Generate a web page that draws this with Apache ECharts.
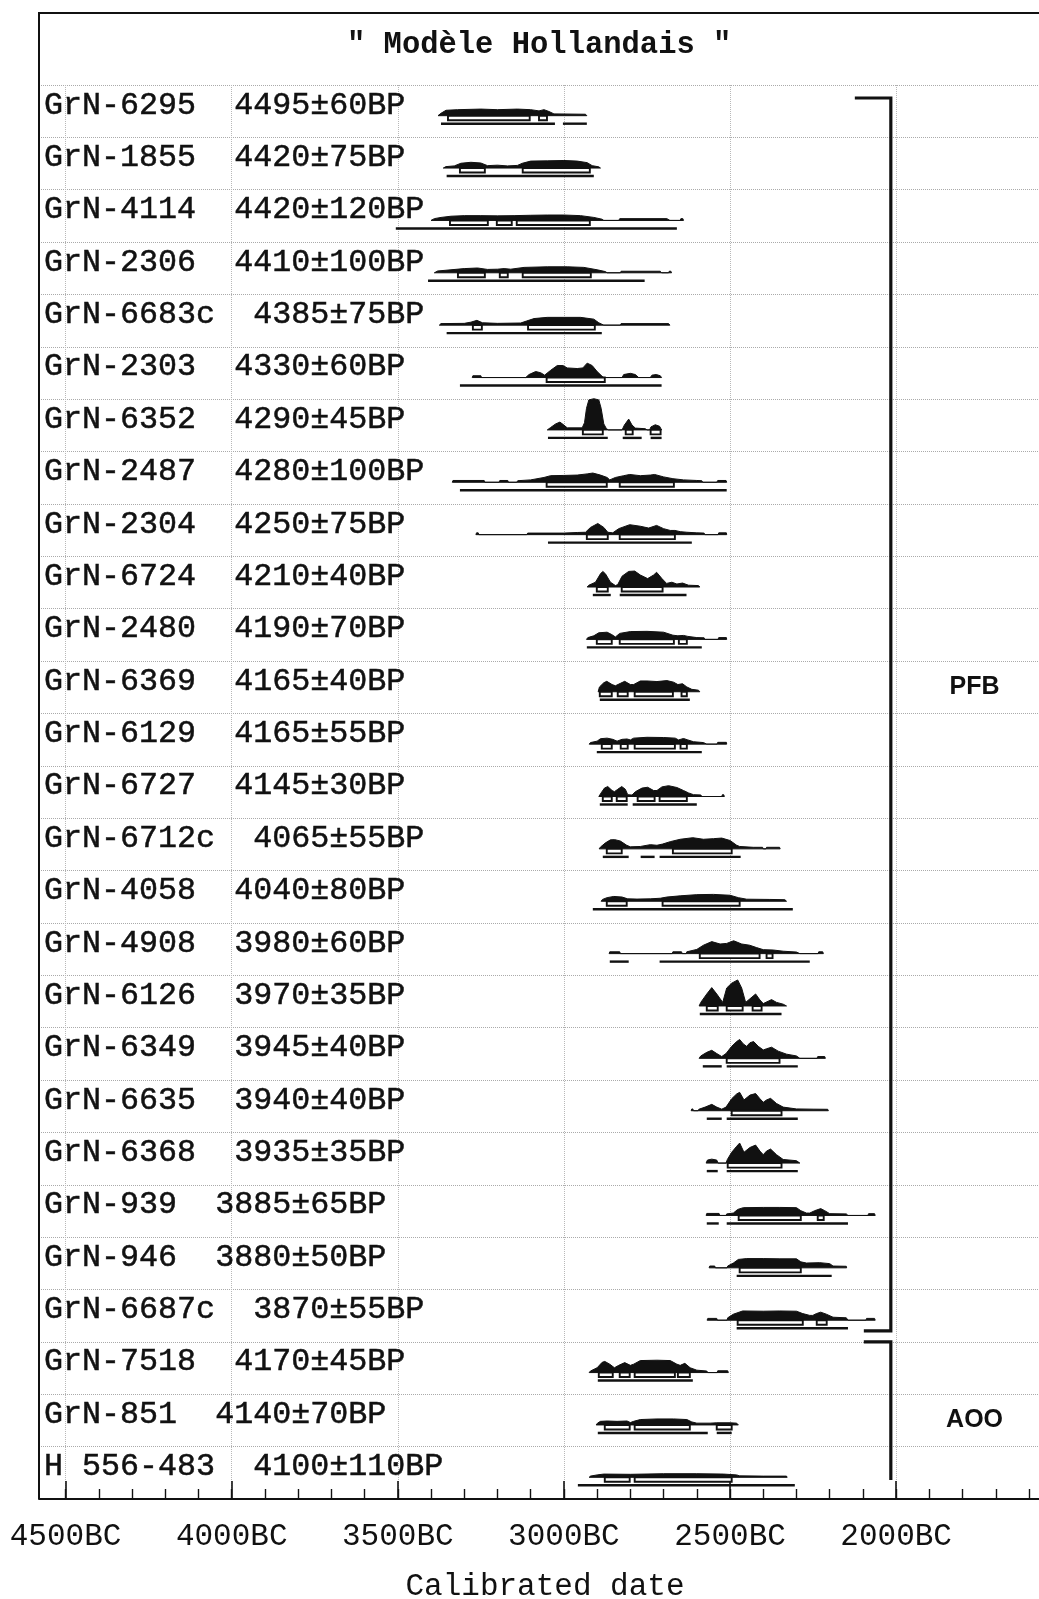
<!DOCTYPE html>
<html><head><meta charset="utf-8">
<script src="https://cdn.jsdelivr.net/npm/echarts@6/dist/echarts.min.js"></script>
<style>html,body{margin:0;padding:0;background:#fff}#c{width:1039px;height:1599px}</style>
</head><body><div id="c"></div>
<script>
// ---------- DATA ----------
const sampleCodes = ['GrN-6295','GrN-1855','GrN-4114','GrN-2306','GrN-6683c','GrN-2303','GrN-6352','GrN-2487','GrN-2304',
  'GrN-6724','GrN-2480','GrN-6369','GrN-6129','GrN-6727','GrN-6712c','GrN-4058','GrN-4908','GrN-6126','GrN-6349',
  'GrN-6635','GrN-6368','GrN-939','GrN-946','GrN-6687c','GrN-7518','GrN-851','H 556-483'];
const bpAges = ['4495±60BP','4420±75BP','4420±120BP','4410±100BP','4385±75BP','4330±60BP','4290±45BP','4280±100BP','4250±75BP',
  '4210±40BP','4190±70BP','4165±40BP','4165±55BP','4145±30BP','4065±55BP','4040±80BP','3980±60BP','3970±35BP','3945±40BP',
  '3940±40BP','3935±35BP','3885±65BP','3880±50BP','3870±55BP','4170±45BP','4140±70BP','4100±110BP'];

// x-axis tick values (years BC)
const majorTicks = [4500,4000,3500,3000,2500,2000];
const minorTicks = [4500,4400,4300,4200,4100,4000,3900,3800,3700,3600,3500,3400,3300,3200,3100,3000,2900,2800,2700,2600,2500,2400,2300,2200,2100,2000,1900,1800,1700,1600];

// probability curves: [year BC, relative density]
const densityCurves = [
 [[3379,0],[3370,2],[3355,4.5],[3320,5],[3250,5.5],[3200,5],[3140,5.5],[3100,5],[3075,4],[3060,5],[3045,3.5],[3030,1.5],[2935,1.2],[2931,0]],
 [[3363,0],[3355,1.2],[3330,1.8],[3310,4],[3280,4.8],[3250,4.2],[3230,2],[3200,2.4],[3170,1.8],[3140,2.2],[3125,4],[3100,5.8],[3050,6],[3000,6.3],[2960,5.8],[2930,4.5],[2915,2],[2895,1],[2890,0]],
 [[3400,0],[3390,1.5],[3370,2.5],[3340,3.5],[3300,4],[3250,4],[3200,3.8],[3150,4],[3100,4.3],[3050,4.5],[3000,4.5],[2950,4],[2910,2.5],[2885,1],[2880,0],[2835,0],[2832,1.5],[2690,1.5],[2681,0],[2650,0],[2648,1.5],[2642,1.5],[2640,0]],
 [[3390,0],[3380,1.5],[3340,2.5],[3300,3.5],[3260,4],[3230,2.8],[3200,3],[3180,3.5],[3160,3],[3120,4.5],[3050,5],[2990,5],[2940,4.5],[2900,2.5],[2875,1],[2870,0],[2830,0],[2828,1.3],[2710,1.3],[2706,0],[2685,0],[2683,1.3],[2678,1.3],[2676,0]],
 [[3375,0],[3370,1.3],[3300,1.5],[3280,2.5],[3262,4],[3245,2],[3200,1.5],[3130,1.8],[3112,3.5],[3090,5.5],[3050,6.5],[3000,6.5],[2950,6.5],[2910,5],[2895,2],[2880,0],[2830,0],[2828,1.3],[2685,1.3],[2681,0]],
 [[3276,0],[3274,1.5],[3250,1.5],[3248,0],[3115,0],[3105,2.5],[3085,5],[3070,4],[3058,2],[3040,6],[3020,10],[3003,10],[2990,8],[2960,7.5],[2943,8],[2930,12],[2915,10],[2900,5],[2885,1],[2880,0],[2825,0],[2820,2.5],[2800,3.5],[2785,2.5],[2775,0],[2740,0],[2735,2],[2722,2.5],[2710,1.5],[2706,0]],
 [[3050,0],[3040,2],[3025,5],[3012,6.5],[3000,4],[2990,1.7],[2945,1.7],[2938,6],[2932,18],[2925,25],[2910,26],[2895,25],[2888,18],[2880,5],[2872,1],[2866,0],[2825,0],[2818,4],[2805,9],[2795,4],[2785,1.5],[2755,1],[2750,0],[2742,0],[2738,2.5],[2725,4.3],[2712,3],[2706,0]],
 [[3336,0],[3334,1.5],[3240,1.5],[3238,0],[3195,0],[3193,1.5],[3169,1.5],[3167,0],[3142,0],[3139,1.3],[3100,2],[3060,4],[3040,5.5],[3000,5.7],[2960,6],[2930,7],[2913,7.7],[2890,6],[2870,4],[2862,2],[2845,4],[2820,5.5],[2802,6.5],[2770,5.5],[2740,6],[2727,6.5],[2700,4.5],[2672,3],[2640,2],[2600,1.5],[2585,1.3],[2582,0],[2540,0],[2537,1.5],[2512,1.5],[2510,0]],
 [[3265,0],[3263,1.5],[3258,1.5],[3256,0],[3112,0],[3109,1.3],[3000,1.3],[2960,1.8],[2935,2],[2920,6],[2898,9.3],[2880,6],[2868,2],[2853,1.5],[2835,5],[2802,8.3],[2770,7],[2745,5.5],[2721,7.7],[2700,5],[2680,3.5],[2666,3.5],[2650,2.5],[2630,2],[2600,1.5],[2578,1.3],[2576,0],[2536,0],[2534,1.5],[2511,1.5],[2510,0]],
 [[2930,0],[2925,1.5],[2905,4],[2890,11],[2883,13],[2875,11],[2860,4],[2845,1.2],[2838,2],[2825,9],[2805,13],[2787,13.3],[2770,10],[2748,7],[2730,10],[2721,12.3],[2705,7],[2691,3],[2675,4],[2660,2.5],[2643,3.3],[2625,1.5],[2595,1.2],[2591,0]],
 [[2932,0],[2928,1.5],[2910,3],[2895,5.5],[2870,6],[2856,4],[2845,2],[2832,5],[2800,6.5],[2750,6.7],[2700,6],[2672,3.5],[2657,3],[2640,3.3],[2627,2.5],[2600,1.5],[2578,1.3],[2576,0],[2536,0],[2534,1.5],[2511,1.5],[2510,0]],
 [[2897,0],[2893,4],[2880,7.5],[2871,8.7],[2855,6],[2845,5],[2830,7],[2817,8.7],[2800,6],[2790,6],[2770,9],[2750,9],[2720,8.5],[2690,9.3],[2670,8],[2657,6],[2643,6.7],[2630,4],[2615,2],[2595,1.3],[2591,0]],
 [[2924,0],[2920,1.3],[2900,2.5],[2890,4.5],[2870,5],[2853,4],[2840,2.5],[2825,4],[2810,4.3],[2800,3.5],[2790,5],[2750,5.7],[2700,5.5],[2665,5],[2655,3.5],[2640,4.7],[2627,3.5],[2610,2],[2580,1.3],[2570,0],[2539,0],[2537,1.5],[2511,1.5],[2510,0]],
 [[2895,0],[2888,3],[2878,7],[2868,8.3],[2855,5],[2848,4],[2838,6],[2826,8.3],[2815,6],[2808,1.5],[2795,1.2],[2785,4],[2765,7],[2748,7.7],[2730,5],[2720,5],[2705,8],[2685,9],[2660,7.5],[2640,5],[2625,3],[2610,1.5],[2588,1.3],[2585,0],[2525,0],[2523,1.5],[2519,1.5],[2517,0]],
 [[2894,0],[2890,1.5],[2875,5],[2860,7.5],[2847,7.7],[2830,6.5],[2811,3],[2800,1.7],[2770,2],[2740,3.5],[2720,3],[2703,4],[2680,6],[2650,8],[2612,9.3],[2580,8],[2550,8.5],[2525,9],[2500,7],[2480,3],[2471,2],[2430,1.3],[2402,1.3],[2400,0],[2392,0],[2390,1.3],[2351,1.3],[2349,0]],
 [[2888,0],[2884,1.5],[2870,3],[2850,4],[2825,3.5],[2808,2],[2780,1.8],[2740,2],[2710,2.5],[2690,3.5],[2650,4.5],[2600,5.5],[2550,5.7],[2500,5],[2475,3],[2450,1.7],[2380,1.5],[2335,1.3],[2330,0]],
 [[2864,0],[2862,1.5],[2832,1.5],[2830,0],[2674,0],[2672,1.5],[2646,1.5],[2644,0],[2632,0],[2630,1.5],[2600,3.5],[2580,7],[2555,10],[2530,8],[2510,8.5],[2489,10.7],[2465,8],[2441,7],[2420,5],[2400,3.3],[2370,3],[2340,2],[2300,1.3],[2290,0],[2235,0],[2233,1.5],[2221,1.5],[2219,0]],
 [[2593,0],[2588,3],[2570,10],[2555,15.3],[2540,10],[2522,3],[2510,15],[2495,19],[2477,21.7],[2465,15],[2453,3],[2440,6],[2423,10],[2410,5],[2400,2],[2385,4],[2375,5.3],[2360,3],[2340,1.5],[2330,0]],
 [[2593,0],[2588,2],[2570,5],[2555,6.7],[2540,4],[2525,1.5],[2512,4],[2495,10],[2480,14],[2471,15.7],[2460,12],[2450,10],[2440,13],[2429,14],[2415,10],[2400,7],[2390,8],[2375,9.3],[2355,6],[2330,3.5],[2300,2],[2290,0],[2238,0],[2236,1.5],[2215,1.5],[2213,0]],
 [[2617,0],[2615,1.5],[2612,1.5],[2610,0],[2596,0],[2594,1.2],[2575,3],[2555,5.3],[2540,3],[2525,1.3],[2512,3],[2495,10],[2480,14],[2471,15.3],[2458,9],[2440,13],[2423,14.3],[2410,10],[2400,7],[2390,9],[2378,10.3],[2360,6],[2340,3],[2300,1.5],[2250,1.3],[2206,1.2],[2204,0]],
 [[2572,0],[2568,2.5],[2555,3.3],[2540,2.5],[2536,0],[2512,0],[2508,3],[2495,9],[2480,14],[2471,16.7],[2458,9],[2440,13],[2423,15],[2410,10],[2400,7],[2390,10],[2378,11.7],[2360,7],[2340,3],[2300,2],[2290,0]],
 [[2572,0],[2570,1.7],[2533,1.7],[2531,0],[2512,0],[2510,1.3],[2490,2],[2477,5],[2460,6.5],[2400,6.7],[2350,6.7],[2300,6.5],[2287,4],[2270,2],[2260,2],[2245,4],[2227,5.7],[2215,4],[2200,1.5],[2150,1.3],[2145,0],[2085,0],[2083,1.5],[2065,1.5],[2063,0]],
 [[2563,0],[2561,1.5],[2546,1.5],[2544,0],[2509,0],[2507,1.5],[2490,4],[2475,7],[2450,7.7],[2400,7.7],[2350,7.5],[2300,7.5],[2287,5],[2270,4],[2230,4.3],[2200,3.5],[2190,1.5],[2150,1.3],[2149,0]],
 [[2569,0],[2567,1.5],[2540,1.5],[2538,0],[2509,0],[2507,2],[2490,5],[2462,7.7],[2400,7.5],[2350,7.7],[2300,7.5],[2281,5.5],[2260,4],[2251,4],[2240,5.5],[2227,6.7],[2210,5],[2190,2.5],[2150,2],[2145,0],[2091,0],[2089,1.5],[2065,1.5],[2063,0]],
 [[2924,0],[2920,1.3],[2900,4],[2885,8.5],[2877,9.3],[2862,7],[2848,4],[2835,6],[2817,8.3],[2800,6],[2790,7],[2770,10],[2720,10.3],[2680,10],[2660,7],[2650,6],[2636,7.7],[2620,4],[2600,2],[2570,1.3],[2567,0],[2539,0],[2537,1.5],[2507,1.5],[2505,0]],
 [[2903,0],[2899,1.5],[2890,3],[2870,3.3],[2840,3],[2810,3.3],[2800,2],[2790,3],[2770,4.5],[2720,5],[2670,5],[2630,4.5],[2615,2.5],[2600,1.5],[2560,1.5],[2540,1.8],[2500,1.8],[2480,1.5],[2475,0]],
 [[2924,0],[2920,1],[2900,2],[2880,2.7],[2800,2.5],[2700,3],[2600,3],[2520,2.7],[2480,2],[2471,1.2],[2400,1],[2330,1],[2328,0]]
];

// 1-sigma ranges (years BC)
const sigma1Ranges = [
 [[3349,3103],[3075,3051]],
 [[3313,3238],[3124,2922]],
 [[3343,3229],[3202,3157],[3142,2922]],
 [[3319,3238],[3193,3169],[3124,2919]],
 [[3274,3247],[3108,2907]],
 [[3052,2877]],
 [[2943,2883],[2814,2793],[2739,2709]],
 [[3052,2871],[2832,2669]],
 [[2931,2868],[2832,2666]],
 [[2901,2868],[2826,2703]],
 [[2901,2856],[2832,2669],[2654,2630]],
 [[2892,2856],[2838,2808],[2787,2672],[2646,2630]],
 [[2886,2856],[2829,2808],[2787,2666],[2649,2630]],
 [[2883,2856],[2841,2811],[2778,2727],[2712,2630]],
 [[2871,2826],[2672,2495]],
 [[2871,2811],[2703,2471]],
 [[2591,2411],[2390,2372]],
 [[2570,2537],[2510,2462],[2432,2405]],
 [[2510,2351]],
 [[2495,2345]],
 [[2507,2345]],
 [[2474,2287],[2236,2218]],
 [[2471,2287]],
 [[2477,2281],[2239,2209]],
 [[2895,2853],[2832,2802],[2787,2666],[2657,2621]],
 [[2877,2802],[2787,2621],[2540,2495]],
 [[2877,2802],[2787,2495]]
];

// 2-sigma ranges (years BC)
const sigma2Ranges = [
 [[3370,3027],[3003,2931]],
 [[3353,2910]],
 [[3506,2660]],
 [[3409,2757]],
 [[3353,2886]],
 [[3313,2706]],
 [[3048,2868],[2823,2766],[2739,2706]],
 [[3313,2510]],
 [[3048,2615]],
 [[2913,2859],[2832,2631]],
 [[2931,2585]],
 [[2892,2621]],
 [[2901,2585]],
 [[2892,2808],[2793,2600]],
 [[2883,2805],[2769,2727],[2712,2468]],
 [[2913,2311]],
 [[2862,2805],[2712,2260]],
 [[2591,2345]],
 [[2582,2525],[2510,2296]],
 [[2570,2525],[2510,2296]],
 [[2570,2537],[2510,2296]],
 [[2570,2534],[2510,2145]],
 [[2480,2194]],
 [[2480,2145]],
 [[2898,2612]],
 [[2898,2567],[2540,2495]],
 [[2958,2305]]
];

// cultural groups (row ranges)
const groupNames = ['PFB','AOO'];
const groupFirstRow = [0,24];
const groupLastRow = [23,26];

// ---------- CHART ----------
const rowLabels = sampleCodes.map((c,i) => c + '  ' + bpAges[i]);
const MONO = '"Liberation Mono","Courier New",monospace';
const INK = '#111';
const DENS_PX = 1.2;

const chart = echarts.init(document.getElementById('c'), null, {renderer:'canvas'});

function renderSample(params, api) {
  const i = api.value(1);
  const cy = api.coord([3000, i])[1];
  const base = cy + 4.5;
  const kids = [];
  const pts = densityCurves[i].map(p => [api.coord([p[0], i])[0], base - p[1] * DENS_PX]);
  kids.push({type:'polygon', shape:{points:pts}, style:{fill:INK, stroke:INK, lineWidth:1, lineJoin:'round'}});
  sigma1Ranges[i].forEach(r => {
    const a = api.coord([r[0], i])[0], b = api.coord([r[1], i])[0];
    kids.push({type:'rect', shape:{x:Math.min(a,b), y:base, width:Math.abs(b-a), height:4.5},
      style:{fill:'#fff', stroke:INK, lineWidth:1.9}});
  });
  sigma2Ranges[i].forEach(r => {
    const a = api.coord([r[0], i])[0], b = api.coord([r[1], i])[0];
    kids.push({type:'line', shape:{x1:a, y1:base+8, x2:b, y2:base+8},
      style:{stroke:INK, lineWidth:2.4}});
  });
  return {type:'group', children:kids};
}

const topOff = [13, 0], botOff = [-11, -19], topHook = [36, 27], botHook = [27, 0];
function renderGroup(params, api) {
  const k = api.value(2);
  const f = groupFirstRow[k], l = groupLastRow[k];
  const half = api.size([0, 1])[1] / 2;
  const x = api.coord([2016, f])[0];
  const yTop = api.coord([2016, f])[1] - half + topOff[k];
  const yBot = api.coord([2016, l])[1] + half + botOff[k];
  const mid = Math.floor((f + l) / 2);
  const ly = api.coord([1764, mid])[1];
  const lx = api.coord([1764, mid])[0];
  const pts = [];
  if (topHook[k]) pts.push([x - topHook[k], yTop]);
  pts.push([x, yTop], [x, yBot]);
  if (botHook[k]) pts.push([x - botHook[k], yBot]);
  return {type:'group', children:[
    {type:'polyline', shape:{points:pts}, style:{stroke:INK, lineWidth:3.2, fill:null}},
    {type:'text', style:{text:groupNames[k], x:lx, y:ly, fill:INK,
      font:'bold 25px "Liberation Sans", Arial, sans-serif', textAlign:'center', textVerticalAlign:'middle',
      align:'center', verticalAlign:'middle'}}
  ]};
}

const xCommon = {type:'value', inverse:true, min:1570, max:4580, gridIndex:0};

chart.setOption({
  animation:false,
  backgroundColor:'#fff',
  title:{text:'" Modèle Hollandais "', left:342, top:25,
    textStyle:{fontFamily:MONO, fontWeight:'bold', fontSize:30.5, color:INK}},
  grid:{left:39, right:0, top:85, bottom:100, containLabel:false, outerBoundsMode:'none'},
  xAxis:[
    Object.assign({}, xCommon, {
      position:'bottom',
      name:'Calibrated date', nameLocation:'middle', nameGap:72,
      nameTextStyle:{fontFamily:MONO, fontSize:31, color:INK, padding:[0,0,0,12]},
      axisLine:{show:true, lineStyle:{color:INK, width:2}},
      axisTick:{show:true, inside:true, length:18, customValues:majorTicks, lineStyle:{color:INK, width:1.6}},
      axisLabel:{show:true, customValues:majorTicks, formatter:v => v + 'BC', margin:22,
        fontFamily:MONO, fontSize:31, color:INK},
      splitLine:{show:true, lineStyle:{color:'#b8b8b8', type:'dotted', width:1}}
    }),
    Object.assign({}, xCommon, {
      position:'bottom',
      axisLine:{show:false},
      axisTick:{show:true, inside:true, length:10, customValues:minorTicks, lineStyle:{color:INK, width:1.4}},
      axisLabel:{show:false},
      splitLine:{show:false}
    })
  ],
  yAxis:{
    type:'category', inverse:true, data:rowLabels, boundaryGap:true,
    axisLine:{show:false}, axisTick:{show:false},
    axisLabel:{inside:true, interval:0, margin:5, fontFamily:MONO, fontSize:31.7, color:INK,
      verticalAlign:'bottom', lineHeight:12, textBorderColor:INK, textBorderWidth:0.5},
    splitLine:{show:true, interval:0, lineStyle:{color:'#aaaaaa', type:'dotted', width:1}}
  },
  graphic:[
    {type:'polyline', shape:{points:[[39,1499],[39,13],[1039,13]]},
      style:{stroke:INK, lineWidth:2, fill:null}, z:100}
  ],
  series:[
    {type:'custom', xAxisIndex:0, yAxisIndex:0, renderItem:renderSample, clip:false,
      encode:{x:0, y:1}, data:sampleCodes.map((c,i) => [3000, i]), z:10},
    {type:'custom', xAxisIndex:0, yAxisIndex:0, renderItem:renderGroup, clip:false,
      encode:{x:0, y:1}, data:groupNames.map((g,k) => [2016, groupFirstRow[k], k]), z:11}
  ]
});
</script>
</body></html>
